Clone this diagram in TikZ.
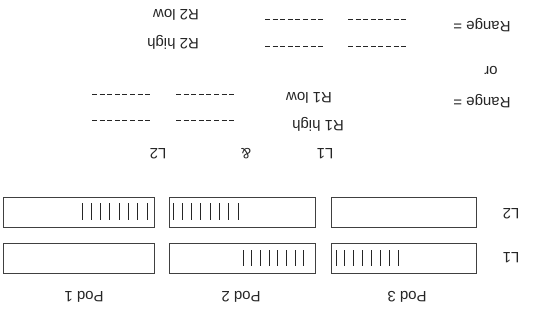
\documentclass[tikz,border=0pt]{standalone}
\usepackage{fontspec}
\setmainfont{Liberation Sans}
\begin{document}
\begin{tikzpicture}[x=1pt,y=-1pt,
  lbl/.style={rotate=180,inner sep=0pt,font=\fontsize{15}{17}\selectfont,text=black!85},
  podbox/.style={draw=black!75,line width=0.8pt,inner sep=0pt,minimum height=30pt},
  bar/.style={draw=black!85,line width=1pt},
  dashline/.style={draw=black!85,line width=1pt,dash pattern=on 5pt off 2.6pt}]
\useasboundingbox (0,0) rectangle (545,320);
% boxes, L2 row (displayed upper)
\node[podbox,minimum width=151pt] (b21) at (78.5,212) {};
\node[podbox,minimum width=146pt] (b22) at (242,212) {};
\node[podbox,minimum width=145pt] (b23) at (403.5,212) {};
% boxes, L1 row
\node[podbox,minimum width=151pt] (b11) at (78.5,258.5) {};
\node[podbox,minimum width=146pt] (b12) at (242,258.5) {};
\node[podbox,minimum width=145pt] (b13) at (403.5,258.5) {};
% bars
\foreach \i in {0,...,7} {
  \draw[bar] (82+\i*9.3,203) -- (82+\i*9.3,220);
  \draw[bar] (173+\i*9.3,203) -- (173+\i*9.3,220);
  \draw[bar] (243+\i*8.7,250) -- (243+\i*8.7,266);
  \draw[bar] (336+\i*8.9,250) -- (336+\i*8.9,266);
}
% row labels
\node[lbl] (lL2) at (511,214) {L2};
\node[lbl] (lL1) at (511,258) {L1};
% pod labels
\node[lbl] (p1) at (84,297) {Pod 1};
\node[lbl] (p2) at (241,297) {Pod 2};
\node[lbl] (p3) at (407,297) {Pod 3};
% L2 & L1
\node[lbl] (mL2) at (158,154) {L2};
\node[lbl] (amp) at (246,154) {\&};
\node[lbl] (mL1) at (325,154) {L1};
% R1
\node[lbl] (r1low) at (309,98) {R1 low};
\node[lbl] (r1high) at (318,124) {R1 high};
\node[lbl] (range2) at (482,101) {Range =};
\coordinate (d1a) at (92,95); \coordinate (d1b) at (152,95);
\coordinate (d1c) at (176,95); \coordinate (d1d) at (236,95);
\coordinate (d2a) at (92,121); \coordinate (d2b) at (152,121);
\coordinate (d2c) at (176,121); \coordinate (d2d) at (236,121);
\draw[dashline] (d1a) -- (d1b); \draw[dashline] (d1c) -- (d1d);
\draw[dashline] (d2a) -- (d2b); \draw[dashline] (d2c) -- (d2d);
% or
\node[lbl] (or) at (491,70) {or};
% R2
\node[lbl] (range1) at (482,25) {Range =};
\node[lbl] (r2low) at (176,15) {R2 low};
\node[lbl] (r2high) at (173,42) {R2 high};
\coordinate (e1a) at (265,20); \coordinate (e1b) at (323,20);
\coordinate (e1c) at (348,20); \coordinate (e1d) at (407,20);
\coordinate (e2a) at (265,47); \coordinate (e2b) at (323,47);
\coordinate (e2c) at (348,47); \coordinate (e2d) at (407,47);
\draw[dashline] (e1a) -- (e1b); \draw[dashline] (e1c) -- (e1d);
\draw[dashline] (e2a) -- (e2b); \draw[dashline] (e2c) -- (e2d);
\end{tikzpicture}
\end{document}
